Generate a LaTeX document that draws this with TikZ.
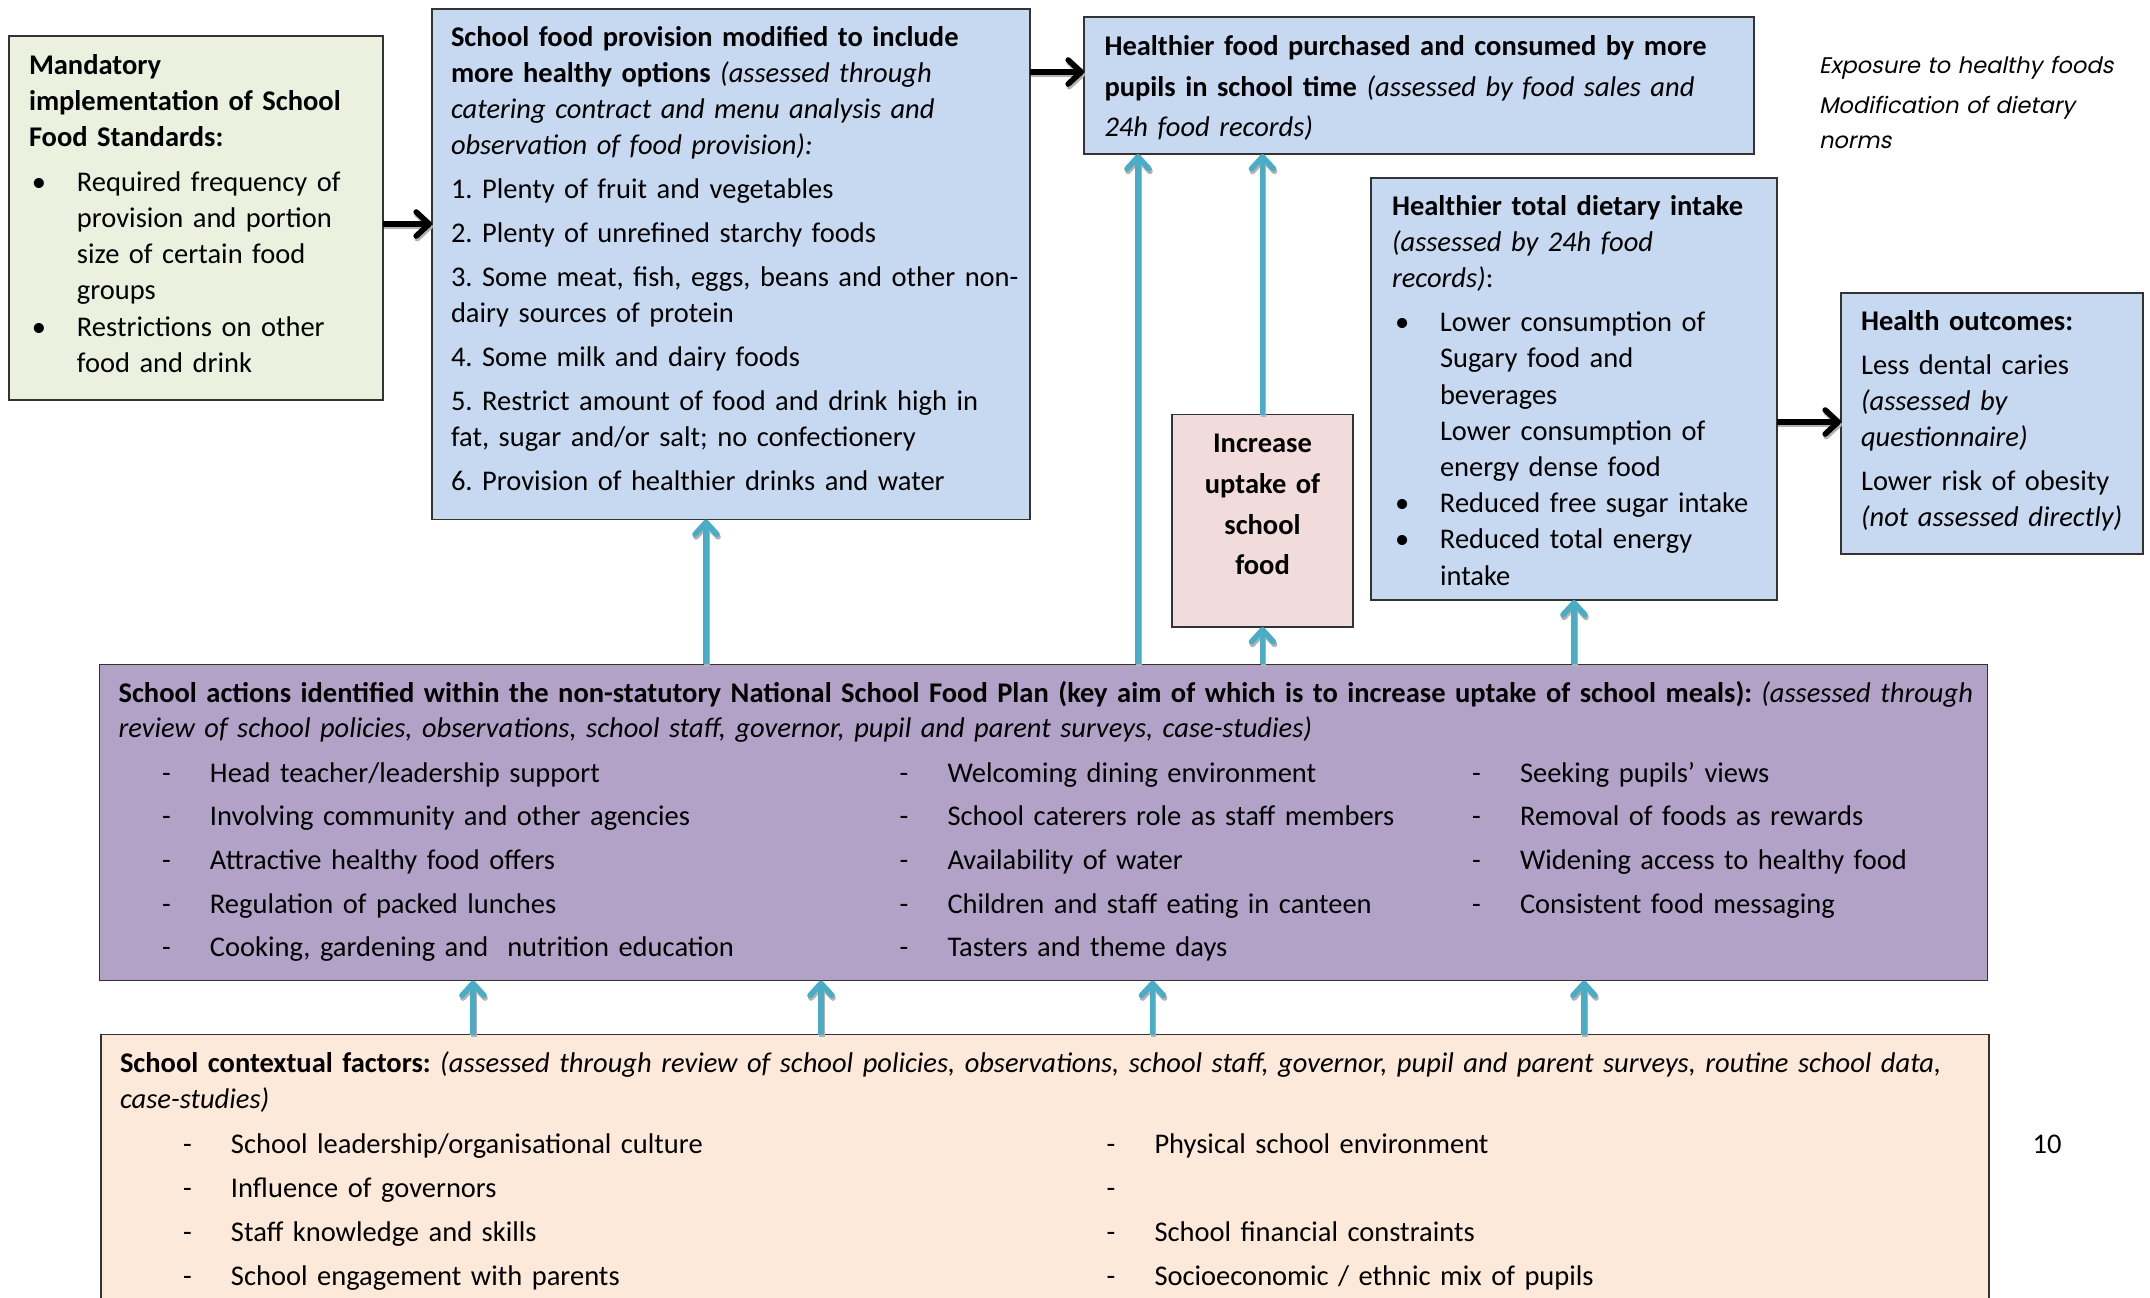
\documentclass[tikz,border=0pt]{standalone}
\usepackage{fontspec}
\setmainfont{Carlito}
\newfontfamily\comic[FakeSlant=0.2]{Poppins}
\usetikzlibrary{arrows.meta}
\definecolor{tealc}{HTML}{4BACC6}
\definecolor{mandc}{HTML}{EBF1DE}
\definecolor{bluec}{HTML}{C6D9F1}
\definecolor{pinkc}{HTML}{F2DCDB}
\definecolor{purpc}{HTML}{B3A2C7}
\definecolor{peachc}{HTML}{FDE9D9}
\newcommand\mybul{\makebox[24pt][l]{\hspace{1.5pt}•}}
\newcommand\myind{\hspace*{24pt}}
\newcommand\mydash{\makebox[24pt][l]{-}}
\newcommand\myarr[3]{\draw[#1, draw=black!30, transform canvas={shift={(0.5pt,-1.3pt)}}] #2 -- #3; \draw[#1] #2 -- #3;}
\frenchspacing
\begin{document}
\begin{tikzpicture}[x=0.5pt,y=-0.5pt,
  box/.style={draw=black!80, line width=0.75pt, inner sep=0pt, outer sep=0pt, anchor=north west},
  txt/.style={inner sep=0pt, outer sep=0pt, anchor=base west, align=left, text width=#1, font=\fontsize{14.25}{18}\selectfont},
  txt/.default=480pt,
  blk/.style={draw=black, line width=2.8pt, -{Straight Barb[length=6.5pt,width=12pt,round]}},
  tl/.style={draw=tealc, line width=2.8pt, -{Straight Barb[length=6pt,width=11pt,round]}}]
\clip (0,0) rectangle (2150,1297);
% boxes
\node[box, fill=mandc, minimum width=187pt, minimum height=182pt] (mand) at (9,36) {};
\node[box, fill=bluec, minimum width=299pt, minimum height=255.25pt] (prov) at (432,9) {};
\node[box, fill=bluec, minimum width=335pt, minimum height=68.5pt] (purch) at (1084,17) {};
\node[box, fill=bluec, minimum width=203pt, minimum height=211pt] (diet) at (1371,178) {};
\node[box, fill=bluec, minimum width=151pt, minimum height=130.5pt] (health) at (1841,293) {};
\node[box, fill=pinkc, minimum width=90.5pt, minimum height=106.2pt] (incr) at (1172,414.6) {};
\node[box, fill=purpc, minimum width=944pt, minimum height=158.15pt] (act) at (99.4,664.3) {};
\node[box, fill=peachc, minimum width=944.1pt, minimum height=150pt] (ctx) at (100.8,1034.7) {};
% texts
\node[txt=180pt] (mandT) at (29,74) {\textbf{Mandatory}\\
\textbf{implementation of School}\\
\textbf{Food Standards:}\\[4.5pt]
\mybul Required frequency of\\
\myind provision and portion\\
\myind size of certain food\\
\myind groups\\[0.75pt]
\mybul Restrictions on other\\
\myind food and drink};
\node[txt=295pt] (provT) at (451,46) {\textbf{School food provision modified to include}\\
\textbf{more healthy options} \textit{(assessed through}\\
\textit{catering contract and menu analysis and}\\
\textit{observation of food provision):}\\[4pt]
1. Plenty of fruit and vegetables\\[4pt]
2. Plenty of unrefined starchy foods\\[4pt]
3. Some meat, fish, eggs, beans and other non-\\
dairy sources of protein\\[4pt]
4. Some milk and dairy foods\\[4pt]
5. Restrict amount of food and drink high in\\
fat, sugar and/or salt; no confectionery\\[4pt]
6. Provision of healthier drinks and water};
\node[txt=330pt, font=\fontsize{14.25}{20.25}\selectfont] (purchT) at (1104.5,55.7) {\textbf{Healthier food purchased and consumed by more}\\
\textbf{pupils in school time} \textit{(assessed by food sales and}\\
\textit{24h food records)}};
\node[txt=170pt, font=\comic\fontsize{11.3}{17.5}\selectfont] (comicT) at (1819,73.5) {Exposure to healthy foods\\[2.5pt]
Modification of dietary\\
norms};
\node[txt=200pt, font=\fontsize{14.25}{18.1}\selectfont] (dietT) at (1392,215) {\textbf{Healthier total dietary intake}\\
\textit{(assessed by 24h food}\\
\textit{records)}:\\[4pt]
\mybul Lower consumption of\\
\myind Sugary food and\\
\myind beverages\\
\myind Lower consumption of\\
\myind energy dense food\\
\mybul Reduced free sugar intake\\
\mybul Reduced total energy\\
\myind intake};
\node[txt=150pt] (healthT) at (1861,330.6) {\textbf{Health outcomes:}\\[4pt]
Less dental caries\\
\textit{(assessed by}\\
\textit{questionnaire)}\\[4pt]
Lower risk of obesity\\
\textit{(not assessed directly)}};
\node[txt=90pt, anchor=base, align=center, font=\fontsize{14.25}{20.4}\selectfont\bfseries] (incrT) at (1262.5,452.4) {Increase\\ uptake of\\ school\\ food};
\node[txt=940pt, font=\fontsize{14.25}{17.25}\selectfont] (actT) at (118.6,702.5) {\textbf{School actions identified within the non-statutory National School Food Plan (key aim of which is to increase uptake of school meals):} \textit{(assessed through}\\
\textit{review of school policies, observations, school staff, governor, pupil and parent surveys, case-studies)}};
\node[txt=360pt, font=\fontsize{14.25}{21.85}\selectfont] (actA) at (162,782) {\mydash Head teacher/leadership support\\
\mydash Involving community and other agencies\\
\mydash Attractive healthy food offers\\
\mydash Regulation of packed lunches\\
\mydash Cooking, gardening and \ nutrition education};
\node[txt=280pt, font=\fontsize{14.25}{21.85}\selectfont] (actB) at (899.5,782) {\mydash Welcoming dining environment\\
\mydash School caterers role as staff members\\
\mydash Availability of water\\
\mydash Children and staff eating in canteen\\
\mydash Tasters and theme days};
\node[txt=250pt, font=\fontsize{14.25}{21.85}\selectfont] (actC) at (1472,782) {\mydash Seeking pupils’ views\\
\mydash Removal of foods as rewards\\
\mydash Widening access to healthy food\\
\mydash Consistent food messaging};
\node[txt=940pt, font=\fontsize{14.25}{17.75}\selectfont] (ctxT) at (120,1072.5) {\textbf{School contextual factors:} \textit{(assessed through review of school policies, observations, school staff, governor, pupil and parent surveys, routine school data,}\\
\textit{case-studies)}};
\node[txt=400pt, font=\fontsize{14.25}{22}\selectfont] (ctxA) at (183,1153) {\mydash School leadership/organisational culture\\
\mydash Influence of governors\\
\mydash Staff knowledge and skills\\
\mydash School engagement with parents};
\node[txt=400pt, font=\fontsize{14.25}{22}\selectfont] (ctxB) at (1106.5,1153) {\mydash Physical school environment\\
\mydash\\
\mydash School financial constraints\\
\mydash Socioeconomic / ethnic mix of pupils};
\node[inner sep=0pt, anchor=base, font=\fontsize{14.25}{18}\selectfont] (pnum) at (2047,1153) {10};
% coordinates for connectors
\coordinate (ya) at (0,224);
\coordinate (yb) at (0,72);
\coordinate (yc) at (0,422);
\coordinate (t1) at (706,0);
\coordinate (t2) at (1138,0);
\coordinate (c1) at (473,0);
\coordinate (c2) at (821,0);
\coordinate (c3) at (1152.5,0);
\coordinate (c4) at (1584,0);
% black arrows
\myarr{blk}{(mand.east |- ya)}{(prov.west |- ya)}
\myarr{blk}{(prov.east |- yb)}{(purch.west |- yb)}
\myarr{blk}{(diet.east |- yc)}{(health.west |- yc)}
% teal arrows
\myarr{tl}{(act.north -| t1)}{(prov.south -| t1)}
\myarr{tl}{(act.north -| t2)}{(purch.south -| t2)}
\myarr{tl}{(act.north -| incr.south)}{(incr.south)}
\myarr{tl}{(incr.north)}{(purch.south -| incr.north)}
\myarr{tl}{(act.north -| diet.south)}{(diet.south)}
\myarr{tl}{(ctx.north -| c1)}{(act.south -| c1)}
\myarr{tl}{(ctx.north -| c2)}{(act.south -| c2)}
\myarr{tl}{(ctx.north -| c3)}{(act.south -| c3)}
\myarr{tl}{(ctx.north -| c4)}{(act.south -| c4)}
\end{tikzpicture}
\end{document}
